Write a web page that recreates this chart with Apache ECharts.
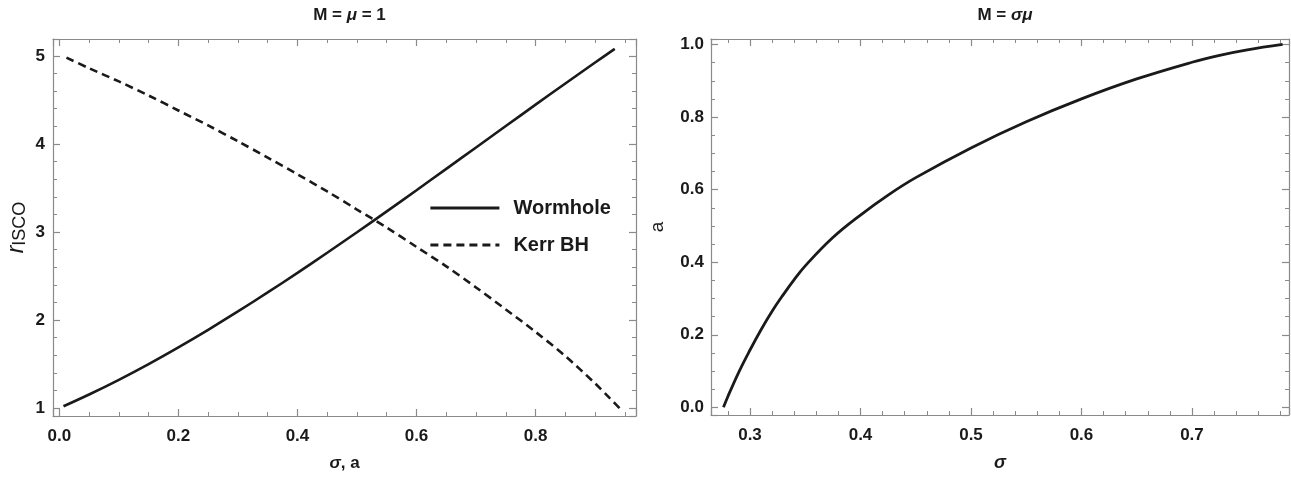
<!DOCTYPE html>
<html>
<head>
<meta charset="utf-8">
<script src="https://cdn.jsdelivr.net/npm/echarts@6/dist/echarts.min.js"></script>
<style>
html,body{margin:0;padding:0;background:#fff;}
#c{width:1291px;height:477px;}
</style>
</head>
<body>
<div id="c"></div>
<script>
// Left panel: ISCO radius
const sigmaWH = [0.007,0.05,0.1,0.15,0.2,0.25,0.3,0.35,0.4,0.45,0.5,0.55,0.6,0.65,0.7,0.75,0.8,0.85,0.9,0.933];
const rWH     = [1.02,1.154,1.321,1.50,1.69,1.889,2.097,2.313,2.535,2.764,2.997,3.234,3.474,3.717,3.96,4.203,4.446,4.687,4.925,5.08];
const aKerr   = [0.012,0.05,0.1,0.15,0.2,0.25,0.3,0.35,0.4,0.45,0.5,0.55,0.6,0.65,0.7,0.75,0.8,0.85,0.9,0.925,0.945];
const rKerr   = [4.98,4.86,4.71,4.55,4.38,4.21,4.03,3.845,3.655,3.46,3.255,3.05,2.83,2.61,2.37,2.12,1.865,1.59,1.28,1.11,0.97];
// Right panel: a vs sigma
const sigmaR  = [0.276,0.28,0.29,0.3,0.31,0.32,0.33,0.34,0.35,0.375,0.4,0.425,0.45,0.5,0.55,0.6,0.65,0.7,0.725,0.75,0.782];
const aR      = [0.0,0.03,0.098,0.158,0.214,0.265,0.31,0.352,0.39,0.468,0.53,0.585,0.633,0.715,0.787,0.85,0.905,0.951,0.97,0.985,1.0];
const seriesNames = ['Wormhole','Kerr BH'];
const titles = ['{b|M = }{bi|\u03bc}{b| = 1}', '{b|M = }{bi|\u03c3\u03bc}'];

const pair = (xs, ys) => xs.map((x, i) => [x, ys[i]]);
const FRAME = '#8a8a8a';
const TXT = '#1a1a1a';
const FONT = 'Liberation Sans, Arial, sans-serif';

function axis(opts) {
  const base = {
    type: 'value',
    scale: true,
    axisLine: {show: true, onZero: false, lineStyle: {color: FRAME, width: 1.2}},
    axisTick: {show: true, inside: true, length: 7, lineStyle: {color: FRAME, width: 1.2}},
    splitLine: {show: false},
    axisLabel: {show: false},
  };
  return Object.assign(base, opts);
}
const minor = n => ({show: true, splitNumber: n, length: 4, lineStyle: {color: FRAME, width: 1}});
const lbl = (fmt, margin) => ({
  show: true, showMinLabel: false, showMaxLabel: false, margin: margin,
  color: TXT, fontFamily: FONT, fontWeight: 'bold', fontSize: 17,
  formatter: fmt
});
const f1 = v => v.toFixed(1);
const f0 = v => v.toFixed(0);
const titleRich = {
  b: {fontFamily: FONT, fontWeight: 'bold', fontSize: 17, color: TXT},
  bi: {fontFamily: FONT, fontWeight: 'bold', fontStyle: 'italic', fontSize: 17, color: TXT}
};

const L = {min: -0.01064, max: 0.9687, ymin: 0.9096, ymax: 5.192};
const R = {min: 0.26471, max: 0.7878, ymin: -0.0211, ymax: 1.0151};

const option = {
  animation: false,
  backgroundColor: '#fff',
  title: [
    {text: titles[0], left: 344.5, top: 2, textAlign: 'center', textStyle: {rich: titleRich}},
    {text: titles[1], left: 1000, top: 2, textAlign: 'center', textStyle: {rich: titleRich}}
  ],
  legend: {
    orient: 'vertical', left: 429, top: 198, padding: 0, itemWidth: 69, itemHeight: 14, itemGap: 17,
    data: seriesNames,
    itemStyle: {opacity: 0, borderWidth: 0},
    lineStyle: {width: 2.8},
    textStyle: {fontFamily: FONT, fontWeight: 'bold', fontSize: 20, color: TXT, padding: [0, 0, 0, 9]}
  },
  grid: [
    {left: 53, top: 39, width: 583, height: 379},
    {left: 711, top: 39, width: 578, height: 378}
  ],
  xAxis: [
    axis({gridIndex: 0, position: 'bottom', min: L.min, max: L.max, splitNumber: 5,
          minorTick: minor(4), axisLabel: lbl(f1, 12),
          name: '{i|\u03c3}{b|, a}', nameLocation: 'middle', nameGap: 39,
          nameTextStyle: {rich: {i: {fontFamily: FONT, fontStyle: 'italic', fontWeight: 'bold', fontSize: 17, color: TXT},
                                 b: {fontFamily: FONT, fontWeight: 'bold', fontSize: 17, color: TXT}}}}),
    axis({gridIndex: 0, position: 'top', min: L.min, max: L.max, splitNumber: 5, minorTick: minor(4)}),
    axis({gridIndex: 1, position: 'bottom', min: R.min, max: R.max, splitNumber: 5,
          minorTick: minor(5), axisLabel: lbl(f1, 12),
          name: '\u03c3', nameLocation: 'middle', nameGap: 39,
          nameTextStyle: {fontFamily: FONT, fontStyle: 'italic', fontWeight: 'bold', fontSize: 18, color: TXT}}),
    axis({gridIndex: 1, position: 'top', min: R.min, max: R.max, splitNumber: 5, minorTick: minor(5)})
  ],
  yAxis: [
    axis({gridIndex: 0, position: 'left', min: L.ymin, max: L.ymax, splitNumber: 5,
          minorTick: minor(5), axisLabel: lbl(f0, 8),
          name: '{i|r}{s|ISCO}', nameLocation: 'middle', nameGap: 24, nameRotate: 90,
          nameTextStyle: {rich: {i: {fontFamily: FONT, fontStyle: 'italic', fontSize: 23, color: TXT},
                                 s: {fontFamily: FONT, fontSize: 18, color: TXT, padding: [7, 0, 0, 0]}}}}),
    axis({gridIndex: 0, position: 'right', min: L.ymin, max: L.ymax, splitNumber: 5, minorTick: minor(5)}),
    axis({gridIndex: 1, position: 'left', min: R.ymin, max: R.ymax, splitNumber: 5,
          minorTick: minor(4), axisLabel: lbl(f1, 7),
          name: 'a', nameLocation: 'middle', nameGap: 44, nameRotate: 90,
          nameTextStyle: {fontFamily: FONT, fontSize: 19, color: TXT}}),
    axis({gridIndex: 1, position: 'right', min: R.ymin, max: R.ymax, splitNumber: 5, minorTick: minor(4)})
  ],
  series: [
    {name: seriesNames[0], type: 'line', xAxisIndex: 0, yAxisIndex: 0, data: pair(sigmaWH, rWH),
     smooth: 0.3, symbol: 'none', lineStyle: {color: TXT, width: 2.6}, itemStyle: {color: TXT}},
    {name: seriesNames[1], type: 'line', xAxisIndex: 0, yAxisIndex: 0, data: pair(aKerr, rKerr),
     smooth: 0.3, symbol: 'none', lineStyle: {color: TXT, width: 2.6, type: [8, 5]}, itemStyle: {color: TXT}},
    {name: 'a', type: 'line', xAxisIndex: 2, yAxisIndex: 2, data: pair(sigmaR, aR),
     smooth: 0.4, symbol: 'none', lineStyle: {color: TXT, width: 2.8}, itemStyle: {color: TXT}}
  ]
};
const chart = echarts.init(document.getElementById('c'), null, {renderer: 'canvas'});
chart.setOption(option);
</script>
</body>
</html>
